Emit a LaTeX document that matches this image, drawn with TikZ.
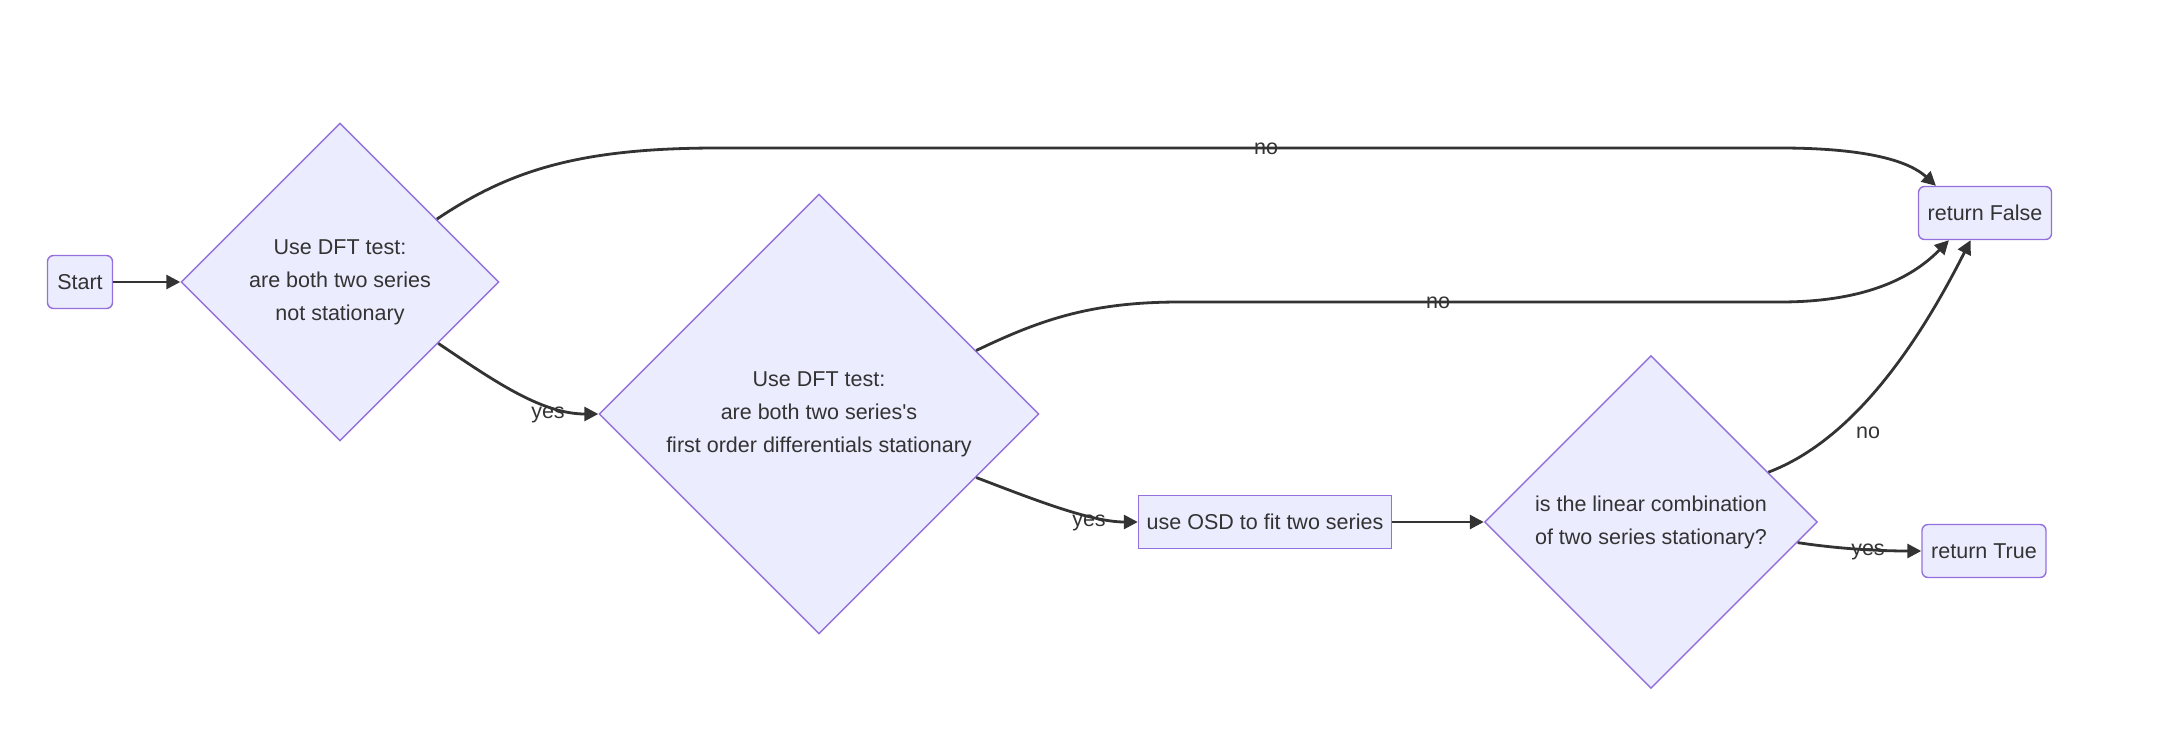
\documentclass[tikz,border=0pt]{standalone}
\usepackage{fontspec}
\setmainfont{Liberation Sans}
\usetikzlibrary{shapes.geometric,arrows.meta}
\definecolor{nodefill}{HTML}{ECECFF}
\definecolor{nodeline}{HTML}{9370DB}
\definecolor{edgeline}{HTML}{333333}
\tikzset{
  box/.style={draw=nodeline, fill=nodefill, line width=1.4pt, minimum height=53pt, inner sep=0pt},
  endbox/.style={box, rounded corners=6pt},
  choice/.style={draw=nodeline, fill=nodefill, line width=1.4pt, diamond, aspect=1, inner sep=0pt, align=center},
  link/.style={draw=edgeline, line width=2.8pt},
  lbl/.style={inner sep=0pt}
}
\begin{document}
\begin{tikzpicture}[x=1pt, y=-1pt, ->, >={Triangle[length=14pt,width=14pt]}, text=edgeline, font=\fontsize{21.5pt}{33pt}\selectfont]
	\useasboundingbox (0,0) rectangle (2166,734);
	\node[endbox, minimum width=65pt] (start) at (80,282) {Start};
	\node[choice, minimum width=318pt, minimum height=318pt] (both) at (340,282) {Use DFT test:\\are both two series\\not stationary};
	\node[choice, minimum width=440pt, minimum height=440pt] (diff) at (819,414) {Use DFT test:\\are both two series\textquotesingle s\\first order differentials stationary};
	\node[box, minimum width=253pt] (osd) at (1265,522) {use OSD to fit two series};
	\node[choice, minimum width=333pt, minimum height=333pt] (comb) at (1651,522) {is the linear combination\\of two series stationary?};
	\node[endbox, minimum width=133pt] (false) at (1985,213) {return False};
	\node[endbox, minimum width=124pt] (true) at (1984,551) {return True};
	\draw[link] (start) -- (both);
	\draw[link] (both.33) .. controls (510,170) and (580,148) .. (718,148) -- (1780,148) .. controls (1870,148) and (1910,162) .. (false.151);
	\draw[link] (both.-32) .. controls (490,378) and (540,414) .. (diff.west);
	\draw[link] (diff.22) .. controls (1040,320) and (1090,302) .. (1180,302) -- (1780,302) .. controls (1870,302) and (1915,275) .. (false.-143);
	\draw[link] (diff.-22) .. controls (1030,498) and (1090,522) .. (osd.west);
	\draw[link] (osd) -- (comb);
	\draw[link] (comb.23) .. controls (1840,445) and (1905,370) .. (false.-118);
	\draw[link] (comb.-8) .. controls (1840,549) and (1880,551) .. (true.west);
	\node[lbl] (no1) at (1266,149) {no};
	\node[lbl] (no2) at (1438,303) {no};
	\node[lbl] (no3) at (1868,433) {no};
	\node[lbl] (yes1) at (548,415) {yes};
	\node[lbl] (yes2) at (1089,523) {yes};
	\node[lbl] (yes3) at (1868,552) {yes};
\end{tikzpicture}
\end{document}
